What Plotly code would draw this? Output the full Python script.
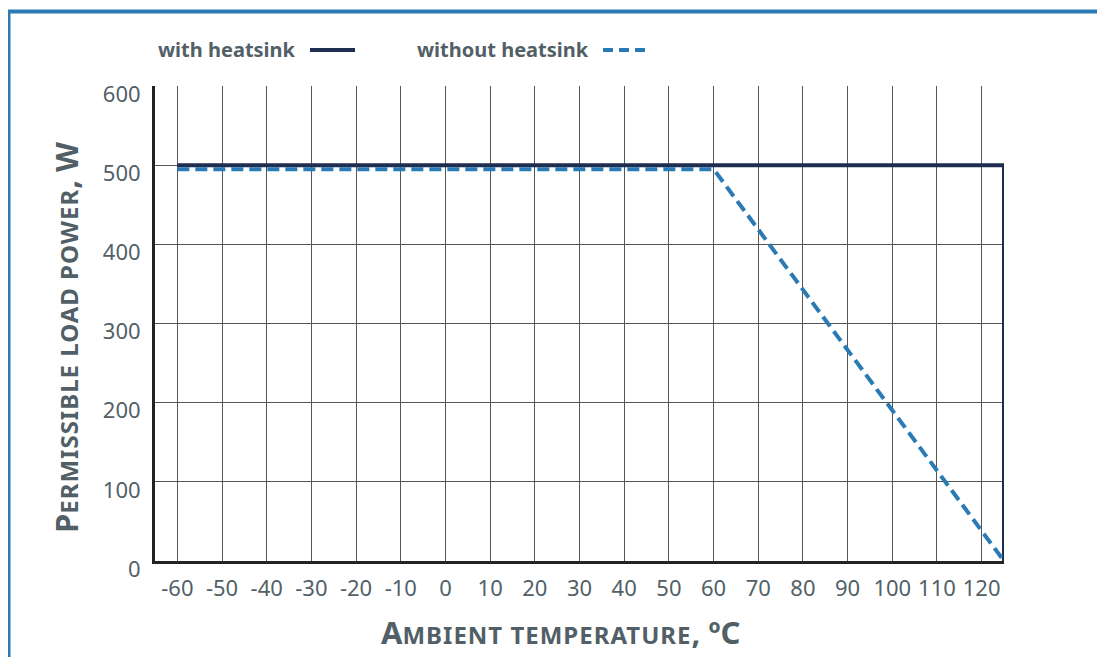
import plotly.graph_objects as go

# Data
temp_with = [-60, 125, 125]
power_with = [500, 500, 0]
temp_without = [-60, 60, 125]
power_without = [495, 495, 0]
x_ticks = list(range(-60, 121, 10))
y_ticks = list(range(0, 601, 100))

NAVY = "#1f2d50"
BLUE = "#2a7ab5"
TEXT = "#525f67"
FONT = "Noto Sans"

OFF = 8  # page body margin
W, H = 1105 - OFF, 657 - OFF
# plot area in screen pixels
SL, SR, ST, SB = 155, 1004, 86, 561
L, T = SL - OFF, ST - OFF
R, B = W - (SR - OFF), H - (SB - OFF)
PW, PH = SR - SL, SB - ST

def px(x):
    return (x - SL) / PW

def py(y):
    return 1 + (ST - y) / PH

fig = go.Figure()
fig.add_trace(go.Scatter(x=temp_with, y=power_with, mode="lines",
                         line=dict(color=NAVY, width=4), name="with heatsink",
                         showlegend=False))
fig.add_trace(go.Scatter(x=temp_without, y=power_without, mode="lines",
                         line=dict(color=BLUE, width=4, dash="12px,6px"),
                         name="without heatsink", showlegend=False))

shapes = [
    dict(type="rect", xref="paper", yref="paper", x0=px(8.5), x1=px(1250),
         y0=py(800), y1=py(11.5), line=dict(color=BLUE, width=4), layer="below"),
    dict(type="line", xref="paper", yref="paper", x0=px(310), x1=px(355),
         y0=py(50), y1=py(50), line=dict(color=NAVY, width=4)),
    dict(type="line", xref="paper", yref="paper", x0=px(603), x1=px(650),
         y0=py(50), y1=py(50), line=dict(color=BLUE, width=4, dash="10px,6px")),
]

sc = "font-size:24px;letter-spacing:1px"
annotations = [
    dict(text="<b>with heatsink</b>", x=px(298), y=py(50), xref="paper", yref="paper",
         xanchor="right", yanchor="middle", showarrow=False,
         font=dict(family=FONT, size=20, color=TEXT)),
    dict(text="<b>without heatsink</b>", x=px(591), y=py(50), xref="paper", yref="paper",
         xanchor="right", yanchor="middle", showarrow=False,
         font=dict(family=FONT, size=20, color=TEXT)),
    dict(text=f"<b>A<span style='{sc}'>MBIENT TEMPERATURE</span>, ºC</b>",
         x=px(560), y=py(632), xref="paper", yref="paper",
         xanchor="center", yanchor="middle", showarrow=False,
         font=dict(family=FONT, size=31, color=TEXT)),
    dict(text=f"<b>P<span style='{sc}'>ERMISSIBLE LOAD POWER</span>, W</b>",
         x=px(66), y=py(338), xref="paper", yref="paper", textangle=-90,
         xanchor="center", yanchor="middle", showarrow=False,
         font=dict(family=FONT, size=31, color=TEXT)),
]

fig.update_layout(
    width=W, height=H,
    margin=dict(l=L, r=R, t=T, b=B),
    paper_bgcolor="white", plot_bgcolor="white",
    shapes=shapes, annotations=annotations,
    showlegend=False,
    xaxis=dict(range=[-65, 125], tickvals=x_ticks, ticktext=[str(v) for v in x_ticks],
               showgrid=True, gridcolor="#555555", gridwidth=1,
               showline=True, linecolor="#222222", linewidth=3,
               zeroline=False, ticks="", ticklabelstandoff=6,
               tickfont=dict(family=FONT, size=22, color=TEXT)),
    yaxis=dict(range=[0, 600], tickvals=y_ticks, ticktext=[str(v) for v in y_ticks],
               showgrid=True, gridcolor="#555555", gridwidth=1,
               showline=True, linecolor="#222222", linewidth=3,
               zeroline=False, ticks="", ticklabelstandoff=7, ticklabelshift=8,
               tickfont=dict(family=FONT, size=22, color=TEXT)),
)

fig.write_html("out.html")
